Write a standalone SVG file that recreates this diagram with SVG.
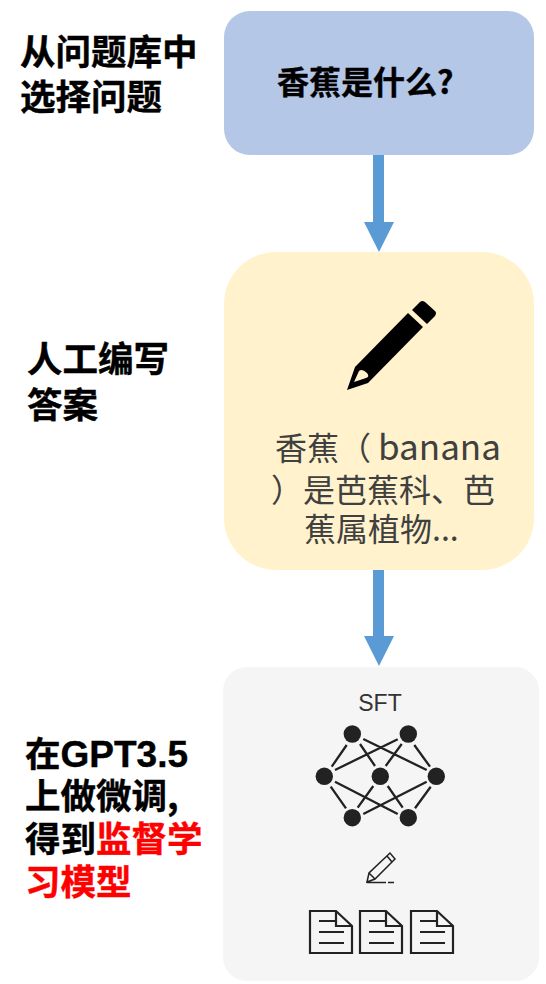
<svg xmlns="http://www.w3.org/2000/svg" width="546" height="984" viewBox="0 0 546 984">
<style>
.h{font-family:"Noto Sans CJK SC","Liberation Sans",sans-serif;font-weight:700;font-size:35.5px;fill:#000;stroke:#000;stroke-width:.4}
.g{font-family:"Liberation Sans","Noto Sans CJK SC",sans-serif;font-size:37px}
.b{font-family:"Noto Sans CJK SC","Liberation Sans",sans-serif;font-size:32px;fill:#404040}
.r{fill:#f00;stroke:#f00}
.a{fill:#5b9bd5}
.l{stroke:#222;stroke-width:2.300;fill:none}
.d{fill:none;stroke:#222;stroke-width:2.200}
.n{fill:#222}
</style>
<defs>
<g id="doc"><path class="d" d="M0 0H26L42 15V42H0Z"/><path class="d" d="M26 0V15H42M9 10H26M9 21H34M9 32H34"/></g>
</defs>
<rect width="546" height="984" fill="#fff"/>
<g id="connectors">
<path class="a" d="M373 155H384V222H394L379 252L364 222H373Z"/>
<path class="a" d="M373 570H384V636H394L379 666L364 636H373Z"/>
</g>
<g id="label-1">
<text class="h"><tspan x="20" y="65">从问题库中</tspan><tspan x="20" y="110">选择问题</tspan></text>
</g>
<g id="node-question">
<rect x="224" y="11" width="310" height="144" rx="26" fill="#b4c7e7"/>
<text class="h" x="277" y="94" style="font-size:32px">香蕉是什么?</text>
</g>
<g id="label-2">
<text class="h"><tspan x="27" y="372">人工编写</tspan><tspan x="27" y="418">答案</tspan></text>
</g>
<g id="node-answer">
<rect x="224" y="252" width="310" height="318" rx="52" fill="#fff2cc"/>
<path fill="#000" d="M347 390L355 367L408 313L423 327L368 383ZM412 310L420 302Q422 300 425 302L435 311Q437 313 435 316L427 324Z"/>
<path fill="#fff2cc" d="M354 382L359 371Q362 368 367 373Q370 377 366 378Z"/>
<text class="b"><tspan x="275" y="460">香蕉（</tspan><tspan x="378" y="460" style="font-size:35px">banana</tspan><tspan x="271" y="502">）是芭蕉科、芭</tspan><tspan x="304" y="541">蕉属植物...</tspan></text>
</g>
<g id="label-3">
<text class="h"><tspan x="25" y="767">在</tspan><tspan class="g">GPT3.5</tspan><tspan x="25" y="809">上做微调,</tspan><tspan x="25" y="852">得到</tspan><tspan class="r">监督学</tspan><tspan class="r" x="25" y="895">习模型</tspan></text>
</g>
<g id="node-sft">
<rect x="223" y="667" width="316" height="314" rx="24" fill="#f5f5f5"/>
<text x="380" y="711" text-anchor="middle" style="font-family:'Liberation Sans',sans-serif;font-size:23px;fill:#333">SFT</text>
<path class="l" d="M346.700 745L331.700 766.700M363.300 739L426.700 770M360 744L375 766M397.700 739.300L335 770M401.700 744L385.700 766M414.300 745L430 766.700M330.700 786.700L346 808.300M335 781.700L397.700 814M373.300 786L357.700 807.700M387.700 786L402.700 807.700M426.700 781.700L363.300 814M430.700 786.700L415 808.300"/>
<g class="n"><circle cx="352.300" cy="734" r="8.700"/><circle cx="408.300" cy="734" r="8.700"/><circle cx="324.300" cy="776.300" r="8.700"/><circle cx="380.300" cy="776.300" r="8.700"/><circle cx="436.300" cy="776.300" r="8.700"/><circle cx="352.300" cy="817.700" r="8.700"/><circle cx="408.300" cy="817.700" r="8.700"/></g>
<path class="l" d="M367 882L369 873L390 853L395 859L375 879ZM369 873L375 879M387 856L392 862M367 882.500H386M388 882.500H394" style="stroke-width:1.500"/>
<use href="#doc" x="310" y="911"/><use href="#doc" x="360" y="911"/><use href="#doc" x="411" y="911"/>
</g>
</svg>
